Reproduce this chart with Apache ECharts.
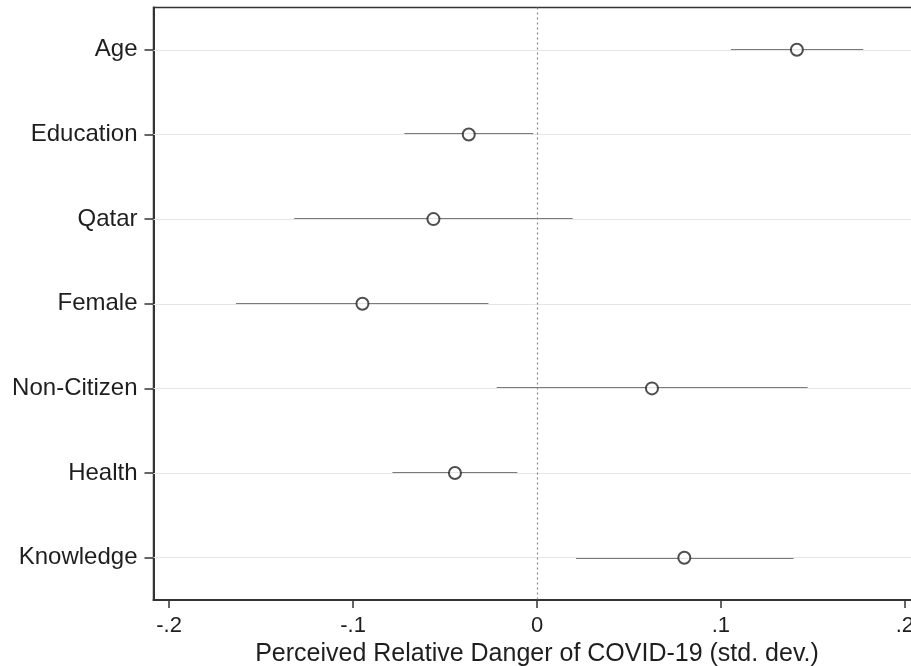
<!DOCTYPE html>
<html>
<head>
<meta charset="utf-8">
<script src="https://cdn.jsdelivr.net/npm/echarts@6/dist/echarts.min.js"></script>
<style>
  html, body { margin: 0; padding: 0; background: #fff; }
  #chart { width: 911px; height: 666px; }
</style>
</head>
<body>
<div id="chart"></div>
<script>
// 变量名（从上到下）
var categories = ['Age', 'Education', 'Qatar', 'Female', 'Non-Citizen', 'Health', 'Knowledge'];
// 点估计
var estimates = [0.1413, -0.0371, -0.0563, -0.0949, 0.0625, -0.0446, 0.0801];
// 置信区间下限 / 上限
var ciLow = [0.1054, -0.0721, -0.1320, -0.1636, -0.0219, -0.0786, 0.0212];
var ciHigh = [0.1774, -0.0020, 0.0194, -0.0264, 0.1471, -0.0107, 0.1395];
// x 轴刻度
var xTicks = [-0.2, -0.1, 0, 0.1, 0.2];
var xTickLabels = ['-.2', '-.1', '0', '.1', '.2'];

var fontFamily = '"Liberation Sans", Arial, sans-serif';

var ciData = categories.map(function (c, i) { return [ciLow[i], ciHigh[i], i]; });
var pointData = categories.map(function (c, i) { return [estimates[i], c]; });

var chart = echarts.init(document.getElementById('chart'));
chart.setOption({
  animation: false,
  backgroundColor: '#fff',
  grid: {
    left: 153.5, top: 7.5, width: 767, height: 592.5,
    outerBoundsMode: 'none',
    containLabel: false,
    show: true, borderColor: '#333', borderWidth: 1.5, backgroundColor: 'transparent'
  },
  xAxis: {
    type: 'value',
    min: -0.2085,
    max: 0.2085,
    splitLine: { show: false },
    axisLine: { show: true, onZero: false, lineStyle: { color: '#333', width: 2 } },
    axisTick: { show: true, length: 8, lineStyle: { color: '#333', width: 1.5 }, customValues: xTicks },
    axisLabel: {
      customValues: xTicks,
      margin: 15,
      fontSize: 22,
      fontFamily: fontFamily,
      color: '#1e1e1e',
      formatter: function (v) {
        var idx = xTicks.findIndex(function (t) { return Math.abs(t - v) < 1e-9; });
        return idx >= 0 ? xTickLabels[idx] : '';
      }
    },
    name: 'Perceived Relative Danger of COVID-19 (std. dev.)',
    nameLocation: 'middle',
    nameGap: 42,
    nameTextStyle: { fontSize: 25, fontFamily: fontFamily, color: '#1e1e1e' }
  },
  yAxis: {
    type: 'category',
    data: categories,
    inverse: true,
    boundaryGap: true,
    axisLine: { show: true, onZero: false, lineStyle: { color: '#333', width: 2 } },
    axisTick: { show: true, alignWithLabel: true, length: 9, lineStyle: { color: '#333', width: 1.5 } },
    axisLabel: { margin: 16, fontSize: 24, fontFamily: fontFamily, color: '#1e1e1e' },
    splitLine: { show: false }
  },
  series: [
    {
      // 网格线和零线
      type: 'line',
      data: [],
      silent: true,
      markLine: {
        silent: true,
        symbol: 'none',
        label: { show: false },
        animation: false,
        data: categories.map(function (c) {
          return { yAxis: c, lineStyle: { color: '#e6e6e6', width: 1, type: 'solid' } };
        }).concat([
          { xAxis: 0, lineStyle: { color: '#888', width: 1.2, type: [2, 3] } }
        ])
      }
    },
    {
      // 置信区间
      type: 'custom',
      data: ciData,
      silent: true,
      renderItem: function (params, api) {
        var p1 = api.coord([api.value(0), api.value(2)]);
        var p2 = api.coord([api.value(1), api.value(2)]);
        var y = Math.round(p1[1]);
        return {
          type: 'line',
          shape: { x1: p1[0], y1: y, x2: p2[0], y2: y },
          style: { stroke: '#7a7a7a', lineWidth: 2 }
        };
      },
      encode: { x: [0, 1], y: 2 }
    },
    {
      // 点估计
      type: 'scatter',
      data: pointData,
      symbol: 'emptyCircle',
      symbolSize: 12,
      itemStyle: { color: '#222', borderColor: '#222', borderWidth: 1.6 },
      z: 5
    }
  ]
});
</script>
</body>
</html>
